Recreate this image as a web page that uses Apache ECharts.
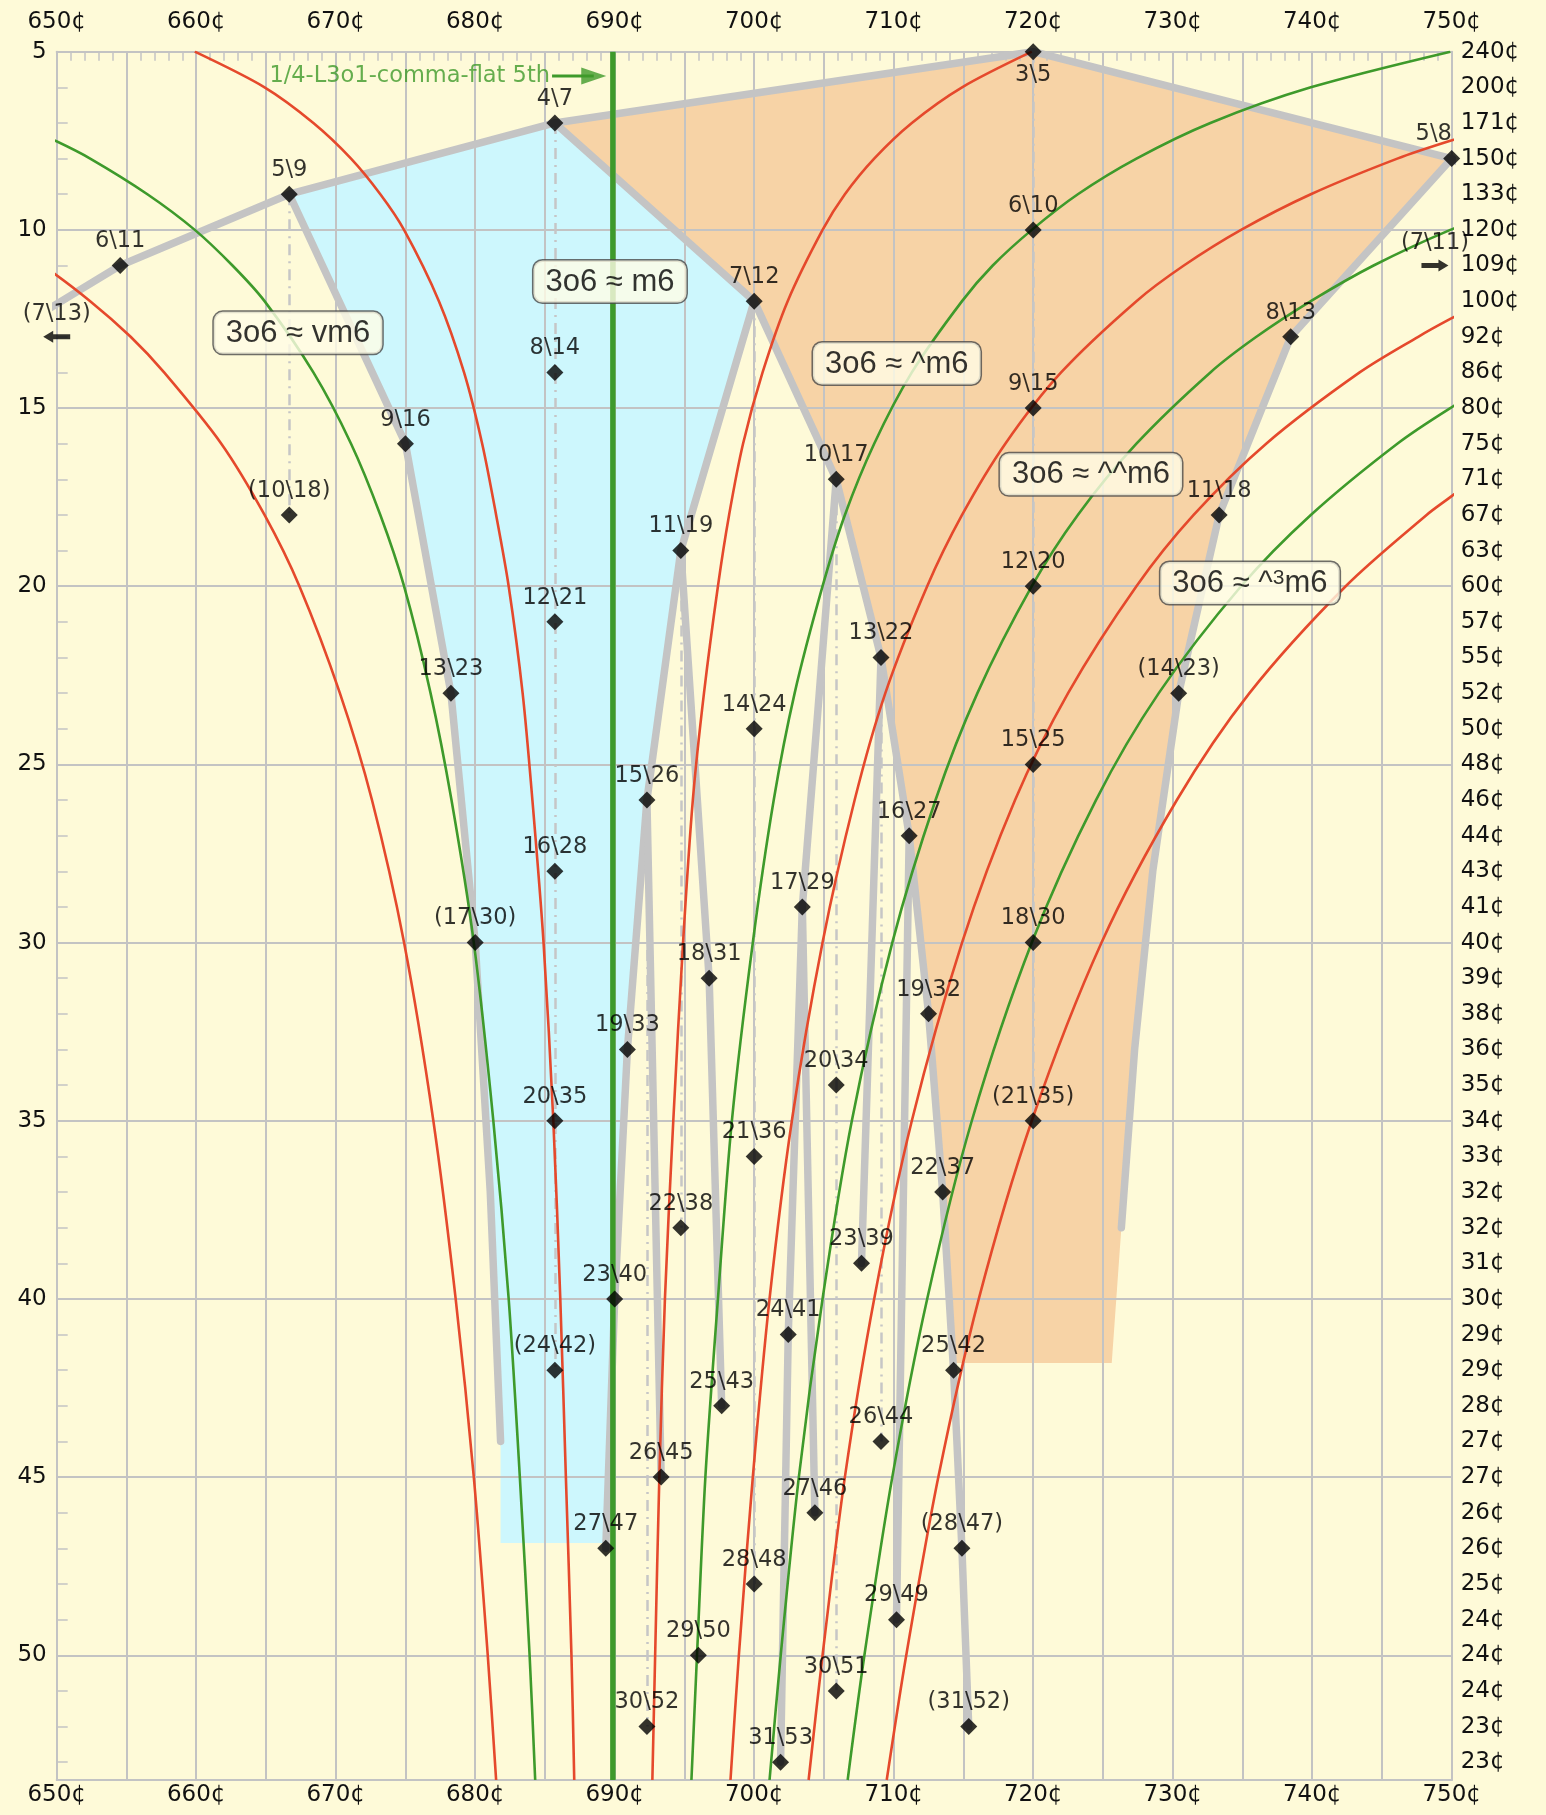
<!DOCTYPE html>
<html>
<head>
<meta charset="utf-8">
<script src="https://cdn.jsdelivr.net/npm/echarts@6/dist/echarts.min.js"></script>
<style>
  html, body { margin: 0; padding: 0; background: #fefad8; }
  #chart { width: 1546px; height: 1815px; }
</style>
</head>
<body>
<div id="chart"></div>
<script>
// Fifths of each EDO: label, size in cents, number of divisions
const edoFifths = [
  ['3\\5', 720.00, 5], ['4\\7', 685.71, 7], ['5\\8', 750.00, 8], ['5\\9', 666.67, 9],
  ['6\\10', 720.00, 10], ['6\\11', 654.55, 11], ['7\\12', 700.00, 12], ['8\\13', 738.46, 13],
  ['8\\14', 685.71, 14], ['9\\15', 720.00, 15], ['9\\16', 675.00, 16], ['10\\17', 705.88, 17],
  ['(10\\18)', 666.67, 18], ['11\\18', 733.33, 18], ['11\\19', 694.74, 19], ['12\\20', 720.00, 20],
  ['12\\21', 685.71, 21], ['13\\22', 709.09, 22], ['13\\23', 678.26, 23], ['(14\\23)', 730.43, 23],
  ['14\\24', 700.00, 24], ['15\\25', 720.00, 25], ['15\\26', 692.31, 26], ['16\\27', 711.11, 27],
  ['16\\28', 685.71, 28], ['17\\29', 703.45, 29], ['(17\\30)', 680.00, 30], ['18\\30', 720.00, 30],
  ['18\\31', 696.77, 31], ['19\\32', 712.50, 32], ['19\\33', 690.91, 33], ['20\\34', 705.88, 34],
  ['20\\35', 685.71, 35], ['(21\\35)', 720.00, 35], ['21\\36', 700.00, 36], ['22\\37', 713.51, 37],
  ['22\\38', 694.74, 38], ['23\\39', 707.69, 39], ['23\\40', 690.00, 40], ['24\\41', 702.44, 41],
  ['(24\\42)', 685.71, 42], ['25\\42', 714.29, 42], ['25\\43', 697.67, 43], ['26\\44', 709.09, 44],
  ['26\\45', 693.33, 45], ['27\\46', 704.35, 46], ['27\\47', 689.36, 47], ['(28\\47)', 714.89, 47],
  ['28\\48', 700.00, 48], ['29\\49', 710.20, 49], ['29\\50', 696.00, 50], ['30\\51', 705.88, 51],
  ['30\\52', 692.31, 52], ['(31\\52)', 715.38, 52], ['31\\53', 701.89, 53]
];

// Fifths off the cents range, marked with arrows at the border
const offRangeFifths = [['(7\\13)', 646.15, 13, 'left'], ['(7\\11)', 763.64, 11, 'right']];

// Tree nodes used only as ends of the tree lines
const hiddenNodes = [
  ['7\\13', 646.15, 13], ['7\\11', 763.64, 11], ['21\\37', 681.08, 37], ['25\\44', 681.82, 44],
  ['17\\28', 728.57, 28], ['20\\33', 727.27, 33], ['23\\38', 726.32, 38]
];

// Chains of the fifth tree (each a polyline through nodes)
const treeChains = [
  ['7\\13', '6\\11', '5\\9', '4\\7', '3\\5', '5\\8', '7\\11'],
  ['5\\9', '9\\16', '13\\23', '17\\30', '21\\37', '25\\44'],
  ['4\\7', '7\\12', '11\\19', '15\\26', '19\\33', '23\\40', '27\\47'],
  ['5\\8', '8\\13', '11\\18', '14\\23', '17\\28', '20\\33', '23\\38'],
  ['7\\12', '10\\17', '13\\22', '16\\27', '19\\32', '22\\37', '25\\42', '28\\47', '31\\52'],
  ['11\\19', '18\\31', '25\\43'],
  ['15\\26', '26\\45'],
  ['10\\17', '17\\29', '24\\41', '31\\53'],
  ['17\\29', '27\\46'],
  ['13\\22', '23\\39'],
  ['16\\27', '29\\49']
];

// Same fifth repeated in multiples of an EDO: cents, first EDO, last EDO
const multipleLines = [
  [666.67, 9, 18], [685.71, 7, 42], [720.00, 5, 35], [700.00, 12, 48],
  [705.88, 17, 51], [694.74, 19, 38], [709.09, 22, 44], [692.31, 26, 52]
];

// Shaded regions
const mSixthRegion = [
  [666.67, 9], [675.00, 16], [678.26, 23], [680.00, 30], [681.08, 37], [681.82, 44],
  [681.82, 46.85], [689.37, 46.85], [690.00, 40], [690.91, 33], [692.31, 26],
  [694.74, 19], [700.00, 12], [685.71, 7]
];
const upSixthRegion = [
  [685.71, 7], [720.00, 5], [750.00, 8], [738.46, 13], [733.33, 18], [730.43, 23],
  [728.57, 28], [727.27, 33], [726.32, 38], [725.63, 41.8], [714.26, 41.8],
  [713.51, 37], [712.50, 32], [711.11, 27], [709.09, 22], [705.88, 17], [700.00, 12]
];

// 3o6 exact with k ups (green) : [cents, EDO]
const greenDown1 = [[647.0,7],[649.9,7.5],[652.4,8],[656.5,9],[659.9,10],[662.6,11],[664.9,12],[668.4,14],[671.1,16],[673.2,18],[674.9,20],[676.8,23],[678.3,26],[679.9,30],[681.3,35],[682.4,40],[683.2,45],[683.9,50],[684.3,53.5]];
const greenFlat = [[689.87,5],[689.87,53.5]];
const greenUp1 = [[749.9,5],[739.9,6],[732.7,7],[727.4,8],[723.2,9],[719.9,10],[717.1,11],[714.9,12],[711.3,14],[708.6,16],[706.5,18],[704.9,20],[702.9,23],[701.4,26],[699.9,30],[698.4,35],[697.4,40],[696.5,45],[695.9,50],[695.5,53.5]];
const greenUp2 = [[764.9,8],[756.5,9],[749.9,10],[744.4,11],[739.9,12],[736.0,13],[732.7,14],[727.4,16],[723.2,18],[719.9,20],[716.0,23],[713.0,26],[709.9,30],[707.0,35],[704.9,40],[703.2,45],[701.9,50],[701.1,53.5]];
const greenUp3 = [[754.2,14],[749.9,15],[746.1,16],[739.9,18],[734.9,20],[729.0,23],[724.5,26],[719.9,30],[715.6,35],[712.4,40],[709.9,45],[707.9,50],[706.7,53.5]];

// Boundaries between neighbouring mappings (red)
const redDown15 = [[644.9,10],[649.0,11],[652.4,12],[655.3,13],[657.7,14],[661.8,16],[664.9,18],[667.4,20],[670.3,23],[672.6,26],[674.9,30],[677.0,35],[678.6,40],[679.9,45],[680.9,50],[681.5,53.5]];
const redDown05 = [[659.9,5],[664.9,6],[668.4,7],[671.1,8],[673.2,9],[674.9,10],[677.4,12],[679.2,14],[680.5,16],[681.5,18],[682.4,20],[683.4,23],[684.1,26],[684.9,30],[685.6,35],[686.1,40],[686.5,45],[686.9,50],[687.1,53.5]];
const redUp05 = [[719.9,5],[714.9,6],[711.3,7],[708.6,8],[706.5,9],[704.9,10],[702.4,12],[700.6,14],[699.2,16],[698.2,18],[697.4,20],[696.4,23],[695.6,26],[694.9,30],[694.2,35],[693.6,40],[693.2,45],[692.9,50],[692.7,53.5]];
const redUp15 = [[754.2,7],[749.9,7.5],[746.1,8],[739.9,9],[734.9,10],[730.8,11],[727.4,12],[722.0,14],[718.0,16],[714.9,18],[712.4,20],[709.4,23],[707.2,26],[704.9,30],[702.7,35],[701.1,40],[699.9,45],[698.9,50],[698.3,53.5]];
const redUp25 = [[752.4,12],[749.9,12.5],[747.6,13],[743.4,14],[736.7,16],[731.5,18],[727.4,20],[722.5,23],[718.7,26],[714.9,30],[711.3,35],[708.6,40],[706.5,45],[704.9,50],[703.9,53.5]];
const redUp35 = [[751.6,17],[749.9,17.5],[748.2,18],[742.4,20],[735.5,23],[730.3,26],[724.9,30],[719.9,35],[716.1,40],[713.2,45],[710.9,50],[709.5,53.5]];

// Step size of each EDO, 5 to 53
const stepSizeLabels = ['240¢','200¢','171¢','150¢','133¢','120¢','109¢','100¢','92¢','86¢',
  '80¢','75¢','71¢','67¢','63¢','60¢','57¢','55¢','52¢','50¢','48¢','46¢','44¢','43¢','41¢',
  '40¢','39¢','38¢','36¢','35¢','34¢','33¢','32¢','32¢','31¢','30¢','29¢','29¢','28¢','27¢',
  '27¢','26¢','26¢','25¢','24¢','24¢','24¢','23¢','23¢'];

// Region notes: text, anchor cents, anchor EDO
const regionNotes = [
  ['3o6 ≈ vm6', 667.3, 12.89], ['3o6 ≈ m6', 689.66, 11.45], ['3o6 ≈ ^m6', 710.22, 13.75],
  ['3o6 ≈ ^^m6', 724.14, 16.86], ['3o6 ≈ ^{sup|3}m6', 735.54, 19.91]
];
const flatFifthNote = ['1/4-L3o1-comma-flat 5th', 685.36, 5.68];

const FONT = '"DejaVu Sans", Verdana, sans-serif';
const BOX_FONT = '"Liberation Sans", Arial, Helvetica, sans-serif';
const GRID_GRAY = '#c3c3c3';
const TREE_GRAY = '#c4c4c4';
const RED = '#e5492c';
const GREEN = '#3e9a2b';

const nodeCoord = {};
edoFifths.forEach(([lab, c, n]) => { nodeCoord[lab.replace(/[()]/g, '')] = [c, n]; });
hiddenNodes.forEach(([lab, c, n]) => { nodeCoord[lab] = [c, n]; });

const labelPlacement = {
  '3\\5': { position: 'bottom', distance: 3 },
  '5\\8': { offset: [-18, 0] }
};

function polygonSeries(points, color) {
  return {
    type: 'custom', z: 0, silent: true, clip: true,
    xAxisIndex: 0, yAxisIndex: 0,
    data: points,
    renderItem: function (params, api) {
      if (params.dataIndex !== 0) return null;
      return {
        type: 'polygon',
        shape: { points: points.map(p => api.coord(p)) },
        style: { fill: color }
      };
    }
  };
}

function curve(data, color, width) {
  return {
    type: 'line', data: data, z: 4, smooth: 0.3, showSymbol: false, silent: true,
    clip: true, lineStyle: { color: color, width: width }
  };
}

const xBase = { type: 'value', min: 650, max: 750, z: 1 };
const yBase = { type: 'value', min: 5, max: 53.5, inverse: true, z: 1 };
const axisLabelStyle = { fontFamily: FONT, fontSize: 23, color: '#111' };

const option = {
  backgroundColor: '#fefad8',
  animation: false,
  grid: { left: 56.7, right: 94.3, top: 51.7, bottom: 35, containLabel: false },
  xAxis: [
    Object.assign({}, xBase, { position: 'bottom', interval: 10,
      axisLine: { show: true, lineStyle: { color: GRID_GRAY, width: 2 } },
      axisTick: { show: false }, splitLine: { show: false },
      axisLabel: Object.assign({ formatter: '{value}¢', margin: 4 }, axisLabelStyle) }),
    Object.assign({}, xBase, { position: 'top', interval: 10,
      axisLine: { show: true, lineStyle: { color: GRID_GRAY, width: 2 } },
      axisTick: { show: false }, splitLine: { show: false },
      axisLabel: Object.assign({ formatter: '{value}¢', margin: 18 }, axisLabelStyle) }),
    Object.assign({}, xBase, { position: 'top', interval: 1,
      axisLine: { show: false }, axisLabel: { show: false }, splitLine: { show: false },
      axisTick: { show: true, inside: true, length: 9, lineStyle: { color: GRID_GRAY, width: 1.5 } } }),
    Object.assign({}, xBase, { position: 'bottom', interval: 5,
      axisLine: { show: false }, axisLabel: { show: false }, axisTick: { show: false },
      splitLine: { show: true, lineStyle: { color: GRID_GRAY, width: 2 } } })
  ],
  yAxis: [
    Object.assign({}, yBase, { position: 'left', interval: 5,
      axisLine: { show: true, lineStyle: { color: GRID_GRAY, width: 2 } },
      axisTick: { show: false },
      splitLine: { show: true, lineStyle: { color: GRID_GRAY, width: 2 } },
      axisLabel: Object.assign({ margin: 10,
        formatter: v => (Math.abs(v % 5) < 1e-6 && v <= 50) ? String(v) : '' }, axisLabelStyle) }),
    Object.assign({}, yBase, { position: 'left', interval: 1,
      axisLine: { show: false }, axisLabel: { show: false }, splitLine: { show: false },
      axisTick: { show: true, inside: true, length: 11, lineStyle: { color: GRID_GRAY, width: 1.5 } } }),
    Object.assign({}, yBase, { position: 'right', interval: 1,
      axisLine: { show: true, lineStyle: { color: GRID_GRAY, width: 2 } },
      axisTick: { show: false }, splitLine: { show: false },
      axisLabel: Object.assign({ margin: 9,
        formatter: v => {
          const i = Math.round(v) - 5;
          return (Math.abs(v - Math.round(v)) < 1e-6 && stepSizeLabels[i]) ? stepSizeLabels[i] : '';
        } }, axisLabelStyle) })
  ],
  series: []
};

const S = option.series;

// shaded regions
S.push(polygonSeries(mSixthRegion, '#cdf7fd'));
S.push(polygonSeries(upSixthRegion, '#f7d3a6'));

// dash-dot verticals through multiples of a fifth
S.push({
  type: 'lines', coordinateSystem: 'cartesian2d', z: 2, silent: true,
  data: multipleLines.map(([c, n0, n1]) => ({ coords: [[c, n0], [c, n1]] })),
  lineStyle: { color: '#c6c6c6', width: 2.5, type: [11, 6, 2, 6], opacity: 1, curveness: 0 }
});

// tree lines
treeChains.forEach(chain => {
  S.push({
    type: 'line', z: 3, silent: true, clip: true, showSymbol: false, symbol: 'none',
    data: chain.map(k => nodeCoord[k]),
    lineStyle: { color: TREE_GRAY, width: 7.5, cap: 'round', join: 'round' }
  });
});

// mapping curves
[redDown15, redDown05, redUp05, redUp15, redUp25, redUp35].forEach(d => S.push(curve(d, RED, 2.6)));
[greenDown1, greenUp1, greenUp2, greenUp3].forEach(d => S.push(curve(d, GREEN, 2.6)));
S.push(curve(greenFlat, GREEN, 5.5));

// arrow to the flat-fifth line
S.push({
  type: 'line', z: 4, silent: true, showSymbol: false, symbol: 'none',
  data: [[flatFifthNote[1] + 0.15, flatFifthNote[2]], [688.5, flatFifthNote[2]]],
  lineStyle: { color: GREEN, width: 3 }
});
S.push({
  type: 'scatter', z: 4, silent: true,
  data: [[688.5, flatFifthNote[2]]],
  symbol: 'triangle', symbolRotate: -90, symbolSize: [17, 25],
  itemStyle: { color: GREEN }
});
S.push({
  type: 'scatter', z: 6, silent: true, symbolSize: 0,
  data: [{ value: [flatFifthNote[1], flatFifthNote[2]], name: flatFifthNote[0] }],
  label: { show: true, position: 'left', distance: 0, formatter: '{b}',
    fontFamily: FONT, fontSize: 22.5, color: GREEN }
});

// EDO fifth markers
S.push({
  type: 'scatter', z: 5, silent: true,
  symbol: 'diamond', symbolSize: 17,
  itemStyle: { color: '#000' },
  data: edoFifths.map(([lab, c, n]) => ({
    name: lab, value: [c, n],
    label: Object.assign({}, labelPlacement[lab] || {})
  })),
  label: { show: true, position: 'top', distance: 4, formatter: '{b}',
    fontFamily: FONT, fontSize: 22.5, color: '#000' }
});

// off-range arrows
S.push({
  type: 'scatter', z: 5, silent: true,
  data: offRangeFifths.map(([lab, c, n, side]) => ({
    name: lab,
    value: [side === 'left' ? 650 : 748.8, n],
    symbolRotate: side === 'left' ? 0 : 180
  })),
  symbol: 'path://M0,6 L10,0 L10,3.5 L27,3.5 L27,8.5 L10,8.5 L10,12 Z',
  symbolSize: [27, 12],
  itemStyle: { color: '#000' },
  label: { show: true, position: 'top', distance: 5, formatter: '{b}',
    fontFamily: FONT, fontSize: 22.5, color: '#000' }
});

// region notes
S.push({
  type: 'scatter', z: 7, silent: true, symbolSize: 0,
  data: regionNotes.map(([t, c, n]) => ({ name: t, value: [c, n] })),
  label: {
    show: true, position: 'inside', formatter: '{b}',
    fontFamily: BOX_FONT, fontSize: 31, color: '#000',
    backgroundColor: '#fffde6', borderColor: '#4a4a4a', borderWidth: 1.5, borderRadius: 9,
    padding: [6, 12, 5, 12],
    rich: { sup: { fontFamily: BOX_FONT, fontSize: 21, color: '#000', verticalAlign: 'top', padding: [0, 0, 10, 0] } }
  }
});

const chart = echarts.init(document.getElementById('chart'), null, { renderer: 'canvas' });
chart.setOption(option);
</script>
</body>
</html>
